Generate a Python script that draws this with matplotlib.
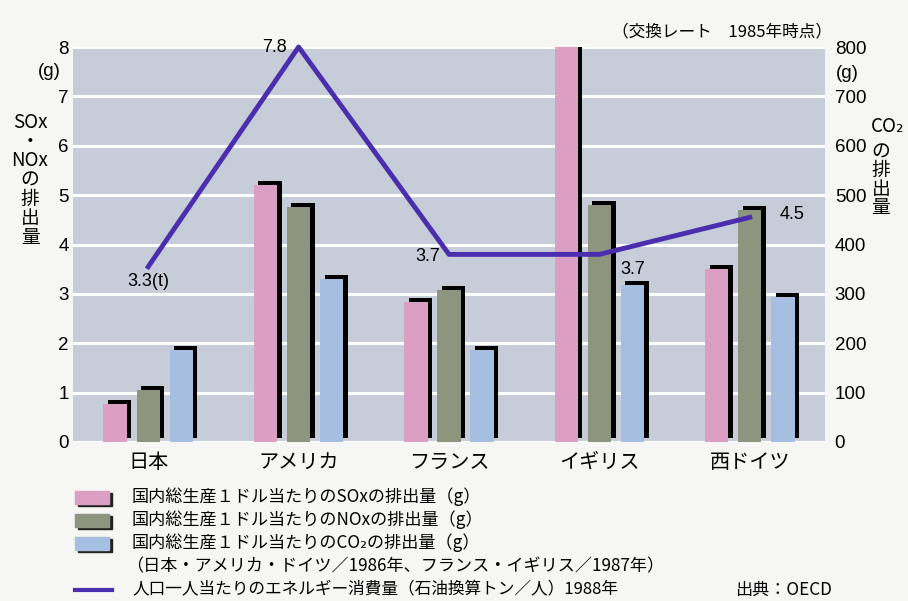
import numpy as np
import matplotlib
matplotlib.use("Agg")
import matplotlib.pyplot as plt
from matplotlib.patches import Rectangle
from matplotlib.lines import Line2D

JP = ['Noto Sans CJK JP', 'DejaVu Sans']
NUM = ['Liberation Sans', 'DejaVu Sans']

countries = ["日本", "アメリカ", "フランス", "イギリス", "西ドイツ"]
sox = [0.77, 5.2, 2.83, 8.0, 3.5]
nox = [1.05, 4.76, 3.08, 4.8, 4.7]
co2 = [186, 330, 186, 318, 293]
energy = [3.3, 7.8, 3.7, 3.7, 4.5]
energy_drawn = [3.55, 8.0, 3.8, 3.8, 4.55]   # heights of the line as drawn (left axis units)
energy_labels = ["3.3(t)", "7.8", "3.7", "3.7", "4.5"]

left_ticks = [0, 1, 2, 3, 4, 5, 6, 7, 8]
right_ticks = [0, 100, 200, 300, 400, 500, 600, 700, 800]

c_bg = "#c6cdd8"
c_sox = "#dc9fc4"
c_nox = "#8e957f"
c_co2 = "#a6bfe0"
c_line = "#4a2eae"
c_fig = "#f6f6f4"

fig = plt.figure(figsize=(9.08, 6.01), dpi=100, facecolor=c_fig)
ax = fig.add_axes([73 / 908, 1 - 442 / 601, 752 / 908, 395 / 601])
ax2 = ax.twinx()
ax.set_zorder(ax2.get_zorder() + 1)
ax.patch.set_visible(False)
ax2.patch.set_visible(True)
ax2.set_facecolor(c_bg)

x = np.arange(len(countries))
w = 0.155
off = 0.22
sx, sy = 0.03, 0.08  # shadow offset

for a in (ax, ax2):
    for s in a.spines.values():
        s.set_visible(False)

# grid on background axis
ax2.set_ylim(0, 800)
ax2.set_yticks(right_ticks)
ax2.yaxis.grid(True, color="white", linewidth=2.2)
ax2.set_axisbelow(True)
ax2.tick_params(axis="y", length=0, pad=7, labelsize=13.5)
for t in ax2.get_yticklabels():
    t.set_family(NUM)

# CO2 bars on right axis
ax2.bar(x + off + sx, co2, w, bottom=sy * 100, color="black", zorder=2)
ax2.bar(x + off, co2, w, color=c_co2, zorder=3)

# SOx / NOx bars on left axis
ax.bar(x - off + sx, sox, w, bottom=sy, color="black", zorder=2)
ax.bar(x - off, sox, w, color=c_sox, zorder=3)
ax.bar(x + sx, nox, w, bottom=sy, color="black", zorder=2)
ax.bar(x, nox, w, color=c_nox, zorder=3)

ax.plot(x, energy_drawn, color=c_line, linewidth=3.5, zorder=5, clip_on=False)

lab_pos = [(0, -0.3, "center"), (-0.08, 0.0, "right"), (-0.06, -0.04, "right"),
           (0.14, -0.3, "left"), (0.2, 0.05, "left")]
for i, (dx, dy, ha) in enumerate(lab_pos):
    ax.text(x[i] + dx, energy_drawn[i] + dy, energy_labels[i], ha=ha, va="center",
            fontsize=13, family=NUM, zorder=6)

ax.set_xlim(-0.5, 4.5)
ax.set_ylim(0, 8)
ax.set_yticks(left_ticks)
ax.tick_params(axis="y", length=0, pad=3, labelsize=13.5)
ax.tick_params(axis="x", length=0, pad=7)
for t in ax.get_yticklabels():
    t.set_family(NUM)
ax.set_xticks(x)
ax.set_xticklabels(countries, family=JP, fontsize=14.5)

# unit labels
fig.text(61 / 908, 1 - 72 / 601, "(g)", ha="right", va="center", fontsize=13.5, family=NUM)
fig.text(836 / 908, 1 - 73 / 601, "(g)", ha="left", va="center", fontsize=13.5, family=NUM)
fig.text(30 / 908, 1 - 180 / 601, "SOx\n・\nNOx\nの\n排\n出\n量", ha="center", va="center",
         fontsize=13.5, family=JP, linespacing=0.88)
fig.text(888 / 908, 1 - 126 / 601, "CO₂", ha="center", va="center", fontsize=13.5, family=JP)
fig.text(881 / 908, 1 - 180 / 601, "の\n排\n出\n量", ha="center", va="center",
         fontsize=13.5, family=JP, linespacing=0.85)
fig.text(832 / 908, 1 - 32 / 601, "（交換レート　1985年時点）", ha="right", va="center",
         fontsize=12, family=JP)

# legend
rows = [(497, c_sox, "国内総生産１ドル当たりのSOxの排出量（g）"),
        (520, c_nox, "国内総生産１ドル当たりのNOxの排出量（g）"),
        (543, c_co2, "国内総生産１ドル当たりのCO₂の排出量（g）")]
for yy, col, txt in rows:
    fig.patches.append(Rectangle(((75 + 3) / 908, 1 - (yy + 7 + 2) / 601), 34 / 908, 13 / 601,
                                 transform=fig.transFigure, color="#222222"))
    fig.patches.append(Rectangle((75 / 908, 1 - (yy + 7) / 601), 34 / 908, 13 / 601,
                                 transform=fig.transFigure, color=col))
    fig.text(132 / 908, 1 - yy / 601, txt, ha="left", va="center", fontsize=12.3, family=JP)
fig.text(126 / 908, 1 - 566 / 601, "（日本・アメリカ・ドイツ／1986年、フランス・イギリス／1987年）",
         ha="left", va="center", fontsize=12.3, family=JP)
fig.lines.append(Line2D([75 / 908, 112 / 908], [1 - 590 / 601, 1 - 590 / 601],
                        transform=fig.transFigure, color=c_line, linewidth=3))
fig.text(132 / 908, 1 - 590 / 601, "人口一人当たりのエネルギー消費量（石油換算トン／人）1988年",
         ha="left", va="center", fontsize=12, family=JP)
fig.text(832 / 908, 1 - 590 / 601, "出典：OECD", ha="right", va="center", fontsize=12.3, family=JP)

fig.savefig("out.png", dpi=100, facecolor=c_fig)
